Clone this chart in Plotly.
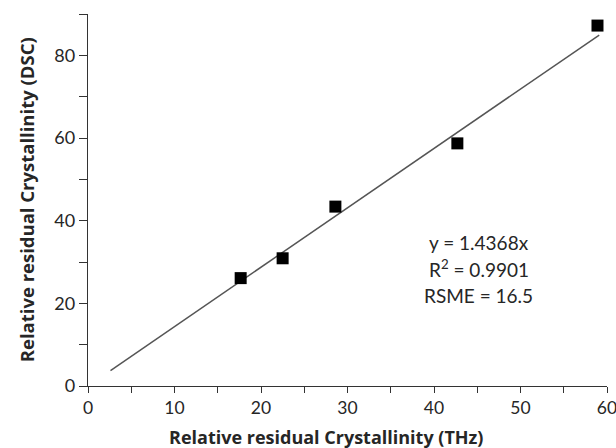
import numpy as np
import plotly.graph_objects as go

# Relative residual crystallinity measured by THz vs DSC
thz = [17.65, 22.5, 28.6, 42.7, 58.9]
dsc = [26.1, 30.9, 43.4, 58.7, 87.2]

# Linear fit through the origin
slope = 1.4368
r_squared = 0.9901
rsme = 16.5
fit_x = [2.6, 59.1]
fit_y = [slope * v for v in fit_x]

FONT = "Lato, 'Open Sans', sans-serif"
TITLE_FONT = "'Open Sans', Lato, sans-serif"
INK = "#262626"

fig = go.Figure()
fig.add_trace(go.Scatter(
    x=fit_x, y=fit_y, mode="lines",
    line=dict(color="#555555", width=1.5),
    showlegend=False, hoverinfo="skip",
))
fig.add_trace(go.Scatter(
    x=thz, y=dsc, mode="markers",
    marker=dict(symbol="square", size=12, color="black"),
    showlegend=False,
))

# Fit statistics, one line each
for i, line in enumerate([f"y = {slope}x",
                          f"R<sup>2</sup> = {r_squared}",
                          f"RSME = {rsme}"]):
    fig.add_annotation(
        x=0.753, y=0.387 - i * 0.0715, xref="paper", yref="paper",
        text=line, showarrow=False, xanchor="center", yanchor="middle",
        font=dict(family=FONT, size=19, color=INK),
    )
fig.add_annotation(
    x=0.459, y=-0.137, xref="paper", yref="paper",
    text="<b>Relative residual Crystallinity (THz)</b>",
    showarrow=False, xanchor="center", yanchor="middle",
    font=dict(family=TITLE_FONT, size=18, color=INK),
)
fig.add_annotation(
    x=-0.119, y=0.5, xref="paper", yref="paper",
    text="<b>Relative residual Crystallinity (DSC)</b>",
    textangle=-90, showarrow=False, xanchor="center", yanchor="middle",
    font=dict(family=TITLE_FONT, size=18.5, color=INK),
)

axis_common = dict(
    showgrid=False, zeroline=False, showline=True,
    linecolor="#333333", linewidth=1.3,
    ticks="outside", tickcolor="#333333", tickwidth=1.3,
    ticklabeloverflow="allow", automargin=False,
)
fig.update_xaxes(
    range=[0, 60], tick0=0, dtick=10, ticklen=6,
    tickfont=dict(family=FONT, size=17.5, color=INK),
    minor=dict(ticks="outside", dtick=5, ticklen=6, tickcolor="#333333", tickwidth=1.3),
    **axis_common,
)
fig.update_yaxes(
    range=[0, 90], tick0=0, dtick=20, ticklen=8,
    tickfont=dict(family=FONT, size=18, color=INK),
    minor=dict(ticks="outside", dtick=10, ticklen=8, tickcolor="#333333", tickwidth=1.3),
    **axis_common,
)

fig.update_layout(
    width=616, height=448,
    margin=dict(l=88, r=9, t=14, b=62),
    plot_bgcolor="white", paper_bgcolor="white",
    font=dict(family=FONT, color=INK),
)

fig.write_html("out.html")
